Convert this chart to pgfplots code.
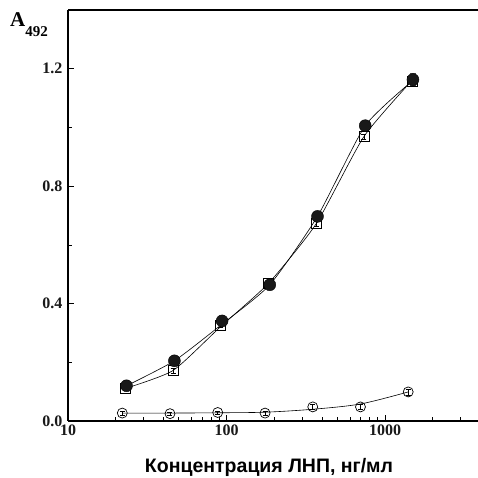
\documentclass[border=0pt]{standalone}
\usepackage{fontspec}
\setmainfont{Liberation Serif}
\newfontfamily\sansf{Liberation Sans}
\usepackage{pgfplots}
\pgfplotsset{compat=1.18}
\begin{document}
\begin{tikzpicture}
\begin{axis}[
  scale only axis, width=410pt, height=411pt,
  xmode=log, xmin=10, xmax=3860, ymin=0, ymax=1.4,
  axis x line*=bottom, axis y line*=left,
  axis line style={line width=1.5pt, -},
  xtick={10,100,1000}, xticklabels={10,100,1000},
  minor xtick={20,30,40,50,60,70,80,90,200,300,400,500,600,700,800,900,2000,3000},
  ytick={0,0.4,0.8,1.2}, minor ytick={0.2,0.6,1.0},
  every tick label/.append style={font=\bfseries\fontsize{16}{16}\selectfont, text=black!90},
  yticklabel style={xshift=-2pt, /pgf/number format/.cd, fixed, fixed zerofill, precision=1},
  /pgf/number format/assume math mode=true,
  tick align=inside, major tick length=6pt, minor tick length=4pt,
  tick style={line width=0.7pt, black},
  clip=false,
]
\draw[line width=1.5pt] (rel axis cs:0,1) -- (rel axis cs:1,1);
% fit line, control (open circles)
\addplot[black, line width=0.6pt, smooth, tension=0.5] coordinates {
 (22,0.027) (44,0.027) (88,0.028) (175,0.030) (350,0.040) (700,0.058) (1400,0.099)};
% squares series line
\addplot[black, line width=0.6pt, smooth, tension=0.35] coordinates {
 (23.0,0.111) (46.0,0.172) (92,0.322) (184,0.469) (368,0.672) (736,0.969) (1480,1.160)};
% filled series line
\addplot[black, line width=0.6pt, smooth, tension=0.35] coordinates {
 (23.4,0.120) (46.9,0.205) (93.75,0.330) (187.5,0.464) (375,0.697) (750,1.006) (1500,1.160)};
% open circles
\addplot[only marks, mark=o, mark size=5pt, mark options={line width=0.7pt, black, fill=white},
  error bars/.cd, y dir=both, y explicit, error bar style={line width=0.6pt}, error mark options={rotate=90, mark size=2.5pt}]
 coordinates {
 (22,0.027) +- (0,0.006) (44,0.025) +- (0,0.006) (88,0.029) +- (0,0.006) (175,0.027) +- (0,0.006)
 (350,0.048) +- (0,0.008) (700,0.048) +- (0,0.008) (1400,0.099) +- (0,0.010)};
% squares
\addplot[only marks, mark=square, mark size=5pt, mark options={line width=0.7pt, black, fill=white},
  error bars/.cd, y dir=both, y explicit, error bar style={line width=0.6pt}, error mark options={rotate=90, mark size=2.5pt}]
 coordinates {
 (23.0,0.111) +- (0,0.006) (46.0,0.172) +- (0,0.008) (92,0.327) +- (0,0.008) (184,0.469) +- (0,0.006)
 (368,0.672) +- (0,0.008) (736,0.969) +- (0,0.008) (1480,1.158) +- (0,0.010)};
% filled circles
\addplot[only marks, mark=*, mark size=6pt, mark options={black, fill=black!90},
  error bars/.cd, y dir=both, y explicit, error bar style={line width=0.8pt, black!70}, error mark options={rotate=90, mark size=3pt, line width=0.8pt, black!70}]
 coordinates {
 (23.4,0.120) +- (0,0.006) (46.9,0.205) +- (0,0.006) (93.75,0.341) +- (0,0.006) (187.5,0.464) +- (0,0.006)
 (375,0.697) +- (0,0.006) (750,1.006) +- (0,0.012) (1500,1.163) +- (0,0.020)};
\end{axis}
\node[anchor=base west, inner sep=0pt] at (-58pt,394pt) {\fontsize{21}{21}\selectfont\bfseries A\raisebox{-10pt}{\fontsize{15}{15}\selectfont 492}};
\node[anchor=base, inner sep=0pt] at (201pt,-51.5pt) {\sansf\bfseries\fontsize{19.5}{19.5}\selectfont Концентрация ЛНП, нг/мл};
\pgfresetboundingbox
\path (-68pt,-57pt) rectangle (410pt,421pt);
\end{tikzpicture}
\end{document}
